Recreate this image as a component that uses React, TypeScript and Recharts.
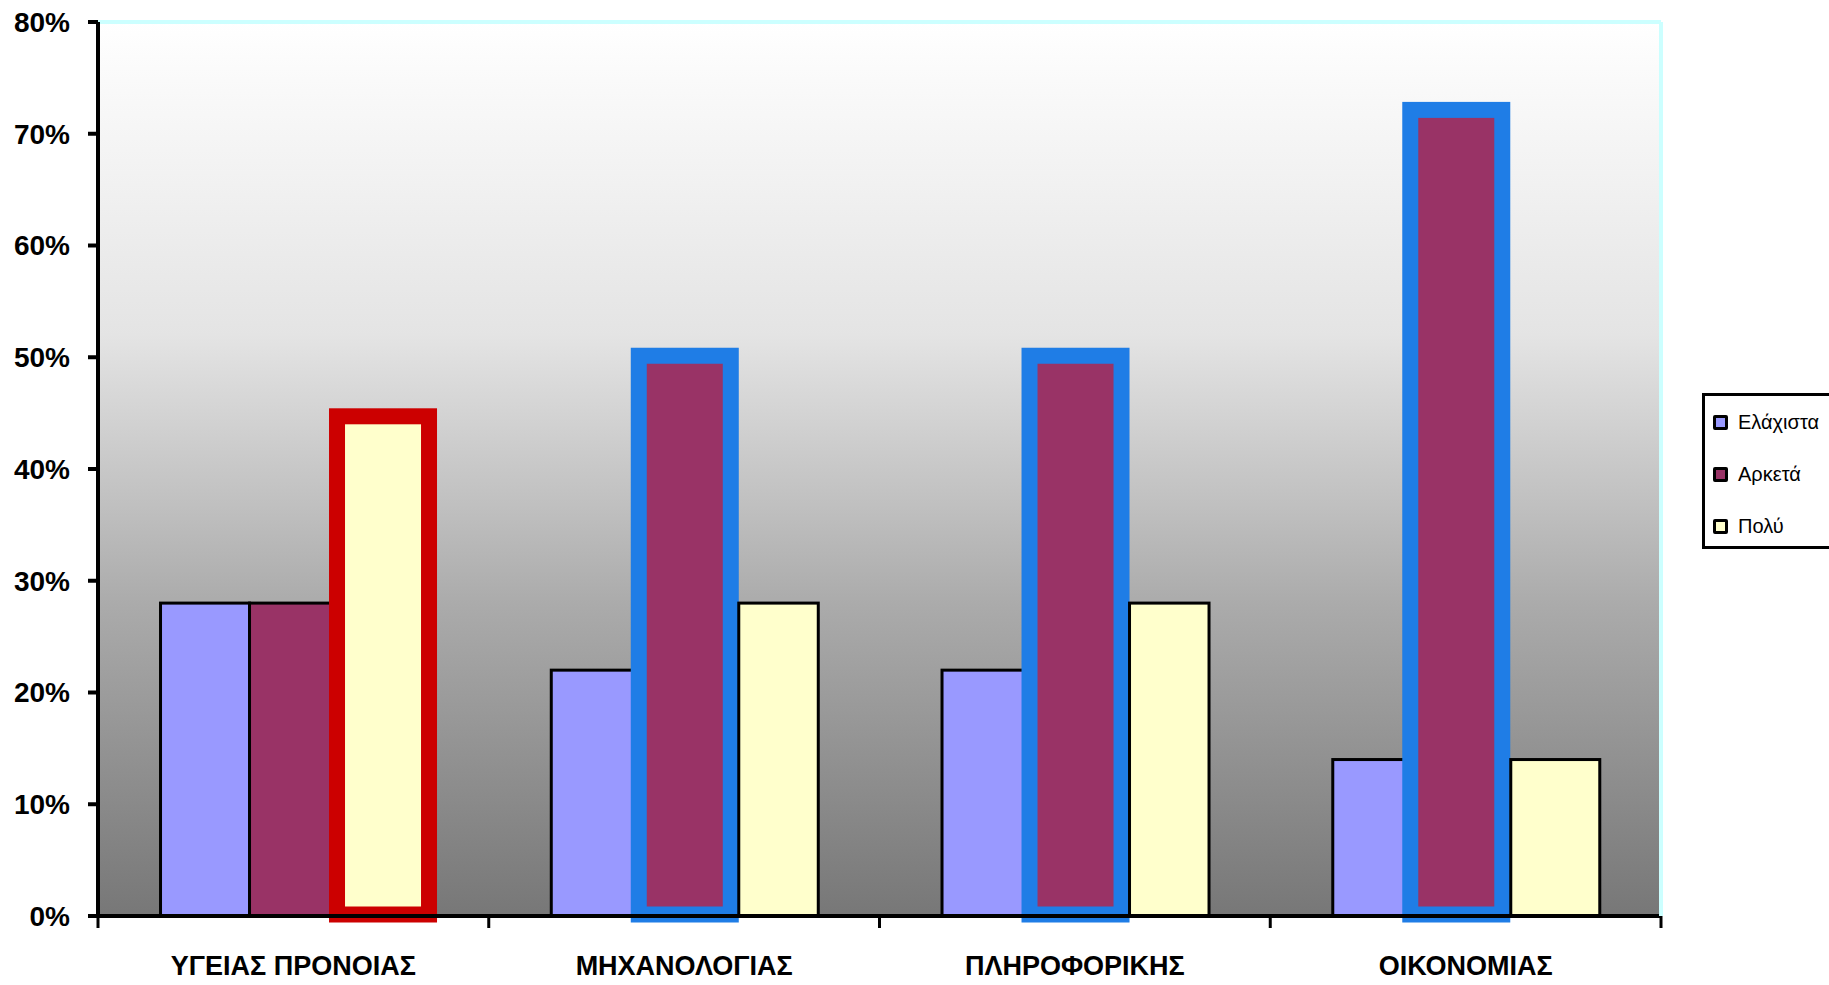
import { BarChart, Bar, XAxis, YAxis, CartesianGrid, ReferenceLine, Legend } from "recharts";

const categories = ["ΥΓΕΙΑΣ ΠΡΟΝΟΙΑΣ", "ΜΗΧΑΝΟΛΟΓΙΑΣ", "ΠΛΗΡΟΦΟΡΙΚΗΣ", "ΟΙΚΟΝΟΜΙΑΣ"];
const seriesNames = ["Ελάχιστα", "Αρκετά", "Πολύ"];
const elaxista = [28, 22, 22, 14];
const arketa = [28, 50, 50, 72];
const poly = [44, 28, 28, 14];
const yTicks = [0, 10, 20, 30, 40, 50, 60, 70, 80];
// bars that the original chart rings with a thick border (category index)
const arketaRinged = [1, 2, 3];
const polyRinged = [0];

const W = 1829;
const H = 985;
const PLOT_LEFT = 98;
const PLOT_RIGHT = 1661;
const BAND = (PLOT_RIGHT - PLOT_LEFT) / categories.length;
const FONT = '"Liberation Sans", Arial, Helvetica, sans-serif';
const RING = 16;

// the rings were hand-drawn, so they sit a little off the bars
const BLUE_RING = { color: "#1f7de6", lift: 1.5, dx: { 3: -10 } as Record<number, number> };
const RED_RING = { color: "#cc0000", lift: 8, dx: {} as Record<number, number> };

const data = categories.map((name, i) => ({
  name,
  elaxista: elaxista[i],
  arketa: arketa[i],
  poly: poly[i],
}));

type Ring = { color: string; lift: number; dx: Record<number, number> };

function ringedShape(ringed: number[], ring: Ring | null, leftRinged: number[] = [], leftRing: Ring | null = null) {
  return (props: any) => {
    const { x, y, width, height, fill, payload } = props;
    const idx = categories.indexOf(payload?.name);
    if (ring && ringed.includes(idx)) {
      const dx = ring.dx[idx] || 0;
      return (
        <rect
          x={x - 1.5 + dx}
          y={y - ring.lift}
          width={width + 3}
          height={height + ring.lift - 1.5}
          fill={fill}
          stroke={ring.color}
          strokeWidth={RING}
        />
      );
    }
    // keep the neighbour's ring on top
    let cut = 0;
    if (leftRing && leftRinged.includes(idx)) {
      const dx = leftRing.dx[idx] || 0;
      cut = Math.max(0, RING / 2 + 1.5 + dx);
    }
    return <rect x={x + cut} y={y} width={width - cut} height={height} fill={fill} stroke="#000" strokeWidth={3} />;
  };
}

function CategoryTick(props: any) {
  const { x, y, payload } = props;
  const last = payload.value === categories[categories.length - 1];
  const edges = last ? [x - BAND / 2, x + BAND / 2] : [x - BAND / 2];
  return (
    <g>
      {edges.map((ex, k) => (
        <line key={k} x1={ex} x2={ex} y1={y} y2={y + 12} stroke="#000" strokeWidth={3} />
      ))}
      <text x={x} y={y + 40} dy="0.71em" textAnchor="middle" fontFamily={FONT} fontWeight="bold" fontSize={27} fill="#000">
        {payload.value}
      </text>
    </g>
  );
}

function LegendBox({ payload }: any) {
  const items = [...(payload || [])].sort(
    (a: any, b: any) => seriesNames.indexOf(a.value) - seriesNames.indexOf(b.value)
  );
  return (
    <div
      style={{
        boxSizing: "border-box",
        width: 127,
        height: 156,
        border: "3px solid #000",
        borderRight: "none",
        background: "#fff",
        fontFamily: FONT,
        fontSize: 20,
        color: "#000",
      }}
    >
      {items.map((p: any) => (
        <div key={p.value} style={{ display: "flex", alignItems: "center", height: 52, paddingLeft: 8 }}>
          <span
            style={{
              boxSizing: "border-box",
              display: "inline-block",
              width: 15,
              height: 15,
              border: "3px solid #000",
              borderRadius: 2,
              background: p.color,
              marginRight: 10,
            }}
          />
          <span>{p.value}</span>
        </div>
      ))}
    </div>
  );
}

export default function App() {
  return (
    <div style={{ width: W, height: H, background: "#fff", position: "relative" }}>
      <style>{"body{margin:0;overflow:hidden}"}</style>
      <BarChart
        width={W}
        height={H}
        data={data}
        margin={{ top: 22, right: 166, bottom: 0, left: 0 }}
        barCategoryGap="16%"
        barGap={0}
      >
        <defs>
          <linearGradient id="plotBg" x1="0" y1="0" x2="0" y2="1">
            <stop offset="0%" stopColor="#ffffff" />
            <stop offset="35%" stopColor="#e4e4e4" />
            <stop offset="65%" stopColor="#ababab" />
            <stop offset="100%" stopColor="#777777" />
          </linearGradient>
        </defs>
        <CartesianGrid horizontal={false} vertical={false} fill="url(#plotBg)" />
        <XAxis
          dataKey="name"
          height={69}
          interval={0}
          tickLine={false}
          tickSize={0}
          tickMargin={0}
          axisLine={{ stroke: "#000", strokeWidth: 4 }}
          tick={<CategoryTick />}
        />
        <YAxis
          width={98}
          domain={[0, 80]}
          ticks={yTicks}
          interval={0}
          tickSize={10}
          tickMargin={18}
          tickFormatter={(v: number) => `${v}%`}
          axisLine={{ stroke: "#000", strokeWidth: 4 }}
          tickLine={{ stroke: "#000", strokeWidth: 4 }}
          tick={{ fill: "#000", fontSize: 28, fontWeight: "bold", fontFamily: FONT }}
        />
        <YAxis
          yAxisId="frame"
          orientation="right"
          width={2}
          domain={[0, 80]}
          tick={false}
          tickLine={false}
          axisLine={{ stroke: "#ccffff", strokeWidth: 4 }}
        />
        <ReferenceLine y={80} stroke="#ccffff" strokeWidth={4} />
        <Bar dataKey="elaxista" name={seriesNames[0]} fill="#9999ff" isAnimationActive={false} shape={ringedShape([], null)} />
        <Bar
          dataKey="arketa"
          name={seriesNames[1]}
          fill="#993366"
          isAnimationActive={false}
          shape={ringedShape(arketaRinged, BLUE_RING)}
        />
        <Bar
          dataKey="poly"
          name={seriesNames[2]}
          fill="#ffffcc"
          isAnimationActive={false}
          shape={ringedShape(polyRinged, RED_RING, arketaRinged, BLUE_RING)}
        />
        <Legend
          layout="vertical"
          align="center"
          verticalAlign="middle"
          wrapperStyle={{ left: 1702, top: 393, width: 127, height: 156 }}
          content={<LegendBox />}
        />
      </BarChart>
    </div>
  );
}
